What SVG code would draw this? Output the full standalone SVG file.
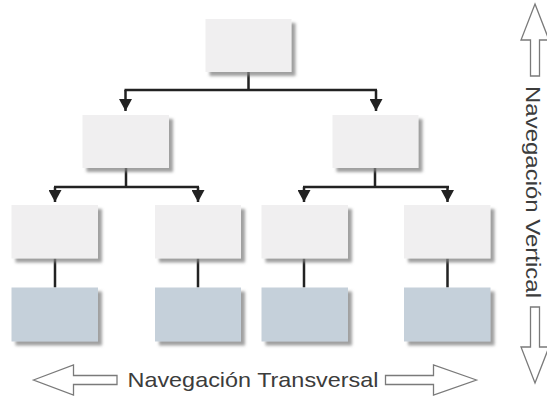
<svg xmlns="http://www.w3.org/2000/svg" width="547" height="396" viewBox="0 0 547 396">
<defs>
<style>
.box{fill:#f0eff0;filter:url(#sh)}
.leaf{fill:#c5d0da;filter:url(#sh)}
.con{fill:none;stroke:#222;stroke-width:2.5}
.nav{fill:#fff;stroke:#7a7a7a;stroke-width:1.3;stroke-linejoin:miter}
.lbl{font-family:"Liberation Sans",Arial,sans-serif;font-size:21px;fill:#3c3c3c}
</style>
<filter id="sh" x="-10%" y="-10%" width="130%" height="130%">
<feDropShadow dx="4" dy="4" stdDeviation="1.4" flood-color="#808080" flood-opacity="0.75"/>
</filter>
<marker id="ah" markerUnits="userSpaceOnUse" viewBox="0 0 13 12" refX="6.5" refY="12" markerWidth="13" markerHeight="12" orient="0">
<path d="M0,0 L13,0 L6.5,12 Z" fill="#222"/>
</marker>
</defs>
<rect width="547" height="396" fill="#fff"/>

<g id="connectors">
<path class="con" d="M248.5,72 V90 M124.5,90 H377"/>
<path class="con" d="M125.5,90 V111" marker-end="url(#ah)"/>
<path class="con" d="M376,90 V111" marker-end="url(#ah)"/>
<path class="con" d="M126,168 V187 M54,187 H199"/>
<path class="con" d="M55,187 V202" marker-end="url(#ah)"/>
<path class="con" d="M198,187 V202" marker-end="url(#ah)"/>
<path class="con" d="M375,168 V187 M303,187 H449"/>
<path class="con" d="M304,187 V202" marker-end="url(#ah)"/>
<path class="con" d="M447.5,187 V202" marker-end="url(#ah)"/>
<path class="con" d="M55,258.5 V287.5 M198,258.5 V287.5 M304,258.5 V287.5 M447.5,258.5 V287.5"/>
</g>

<g id="n-root"><rect class="box" x="205.5" y="19" width="86" height="53"/></g>
<g id="n-l2a"><rect class="box" x="82.5" y="115" width="86.5" height="53"/></g>
<g id="n-l2b"><rect class="box" x="332.5" y="115" width="86" height="53"/></g>
<g id="n-l3a"><rect class="box" x="11.5" y="205" width="86.5" height="53.5"/></g>
<g id="n-l3b"><rect class="box" x="155" y="205" width="86" height="53.5"/></g>
<g id="n-l3c"><rect class="box" x="261.5" y="205" width="86.5" height="53.5"/></g>
<g id="n-l3d"><rect class="box" x="404" y="205" width="86.5" height="53.5"/></g>
<g id="n-l4a"><rect class="leaf" x="11.5" y="287.5" width="86.5" height="54"/></g>
<g id="n-l4b"><rect class="leaf" x="155" y="287.5" width="86" height="54"/></g>
<g id="n-l4c"><rect class="leaf" x="261.5" y="287.5" width="86.5" height="54"/></g>
<g id="n-l4d"><rect class="leaf" x="404" y="287.5" width="86.5" height="54"/></g>

<g id="nav-transversal">
<polygon class="nav" points="33.5,380 73.5,365 73.5,375.5 117,375.5 117,384.5 73.5,384.5 73.5,395"/>
<polygon class="nav" points="476.5,380 433.5,365 433.5,375.5 385.5,375.5 385.5,384.5 433.5,384.5 433.5,395"/>
<text class="lbl" x="127.5" y="387" textLength="251" lengthAdjust="spacingAndGlyphs">Navegación Transversal</text>
</g>

<g id="nav-vertical">
<polygon class="nav" points="535,4 549,40 539.5,40 539.5,76 530.5,76 530.5,40 521,40"/>
<polygon class="nav" points="535,383 549,347 539.5,347 539.5,307 530.5,307 530.5,347 521,347"/>
<text class="lbl" transform="translate(526,86) rotate(90)" x="0" y="0" textLength="212" lengthAdjust="spacingAndGlyphs">Navegación Vertical</text>
</g>
</svg>
